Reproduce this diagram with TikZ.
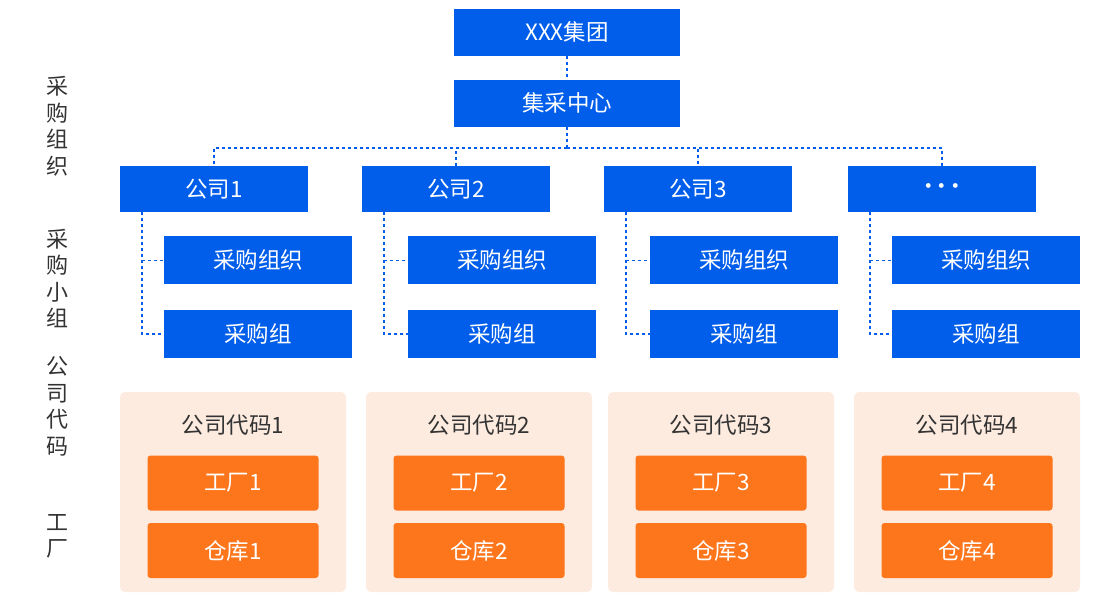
\documentclass[tikz,border=0pt]{standalone}
\usepackage{fontspec}
\setmainfont{Noto Sans CJK SC}
\usetikzlibrary{positioning}
\definecolor{orgblue}{RGB}{0,94,235}
\definecolor{plantorange}{RGB}{253,118,28}
\definecolor{codepeach}{RGB}{253,235,224}
\definecolor{labelgray}{RGB}{51,51,51}

\begin{document}
\begin{tikzpicture}[x=1pt,y=-1pt,
    bluebox/.style={fill=orgblue,text=white,inner sep=0pt,minimum height=47pt,
      font=\fontsize{22.5}{24}\selectfont},
    topbox/.style={bluebox,minimum width=226pt},
    combox/.style={bluebox,minimum width=188pt,minimum height=46pt},
    subbox/.style={bluebox,minimum width=188pt,minimum height=48pt},
    codepanel/.style={fill=codepeach,rounded corners=5pt,inner sep=0pt,
      minimum width=226pt,minimum height=200pt},
    plantbox/.style={fill=plantorange,text=white,rounded corners=3pt,inner sep=0pt,
      minimum width=171pt,minimum height=55pt,font=\fontsize{22.5}{24}\selectfont},
    sidelabel/.style={text=labelgray,align=center,inner sep=0pt,
      font=\fontsize{22}{26.5}\selectfont},
    link/.style={orgblue,line width=1.8pt,dash pattern=on 3pt off 3pt}]
  \useasboundingbox (0,0) rectangle (1120,600);

  % side labels
  \node[sidelabel] (lab_org) at (57,126) {采\\购\\组\\织};
  \node[sidelabel] (lab_grp) at (57,278.5) {采\\购\\小\\组};
  \node[sidelabel] (lab_code) at (57,406.5) {公\\司\\代\\码};
  \node[sidelabel] (lab_plant) at (57,536.5) {工\\厂};

  % group and purchasing centre
  \node[topbox] (top) at (567,32) {XXX集团};
  \node[topbox] (mid) [below=24pt of top] {集采中心};
  \draw[link] (top) -- (mid);
  \coordinate (split) at ([yshift=-21pt]mid.south);
  \draw[link] (mid) -- (split);

  % companies with purchasing org and group
  \foreach \i/\cx/\ox/\lab in {1/214/44/公司1, 2/456/46/公司2, 3/698/46/公司3,
      4/942/44/{·\hspace{-9pt}·\hspace{-9pt}·}} {
    \node[combox] (c_\i) at (\cx,189) {\lab};
    \node[subbox] (o_\i) [below right=24pt and \ox pt of c_\i.south west] {采购组织};
    \node[subbox] (g_\i) [below=25pt of o_\i] {采购组};
    \draw[link] (split) -| (c_\i);
    \draw[link] ([xshift=22pt]c_\i.south west) |- (o_\i.west);
    \draw[link] ([xshift=22pt]c_\i.south west) |- (g_\i.west);
  }

  % company codes with plants and warehouses
  \foreach \i/\px in {1/233, 2/479, 3/721, 4/967} {
    \node[codepanel] (p_\i) at (\px,492) {};
    \node[text=labelgray,font=\fontsize{22.5}{24}\selectfont] (t_\i) at (\px,425) {公司代码\i};
    \node[plantbox] (f_\i) at (\px,483) {工厂\i};
    \node[plantbox] (w_\i) at (\px,550.5) {仓库\i};
  }
\end{tikzpicture}
\end{document}
